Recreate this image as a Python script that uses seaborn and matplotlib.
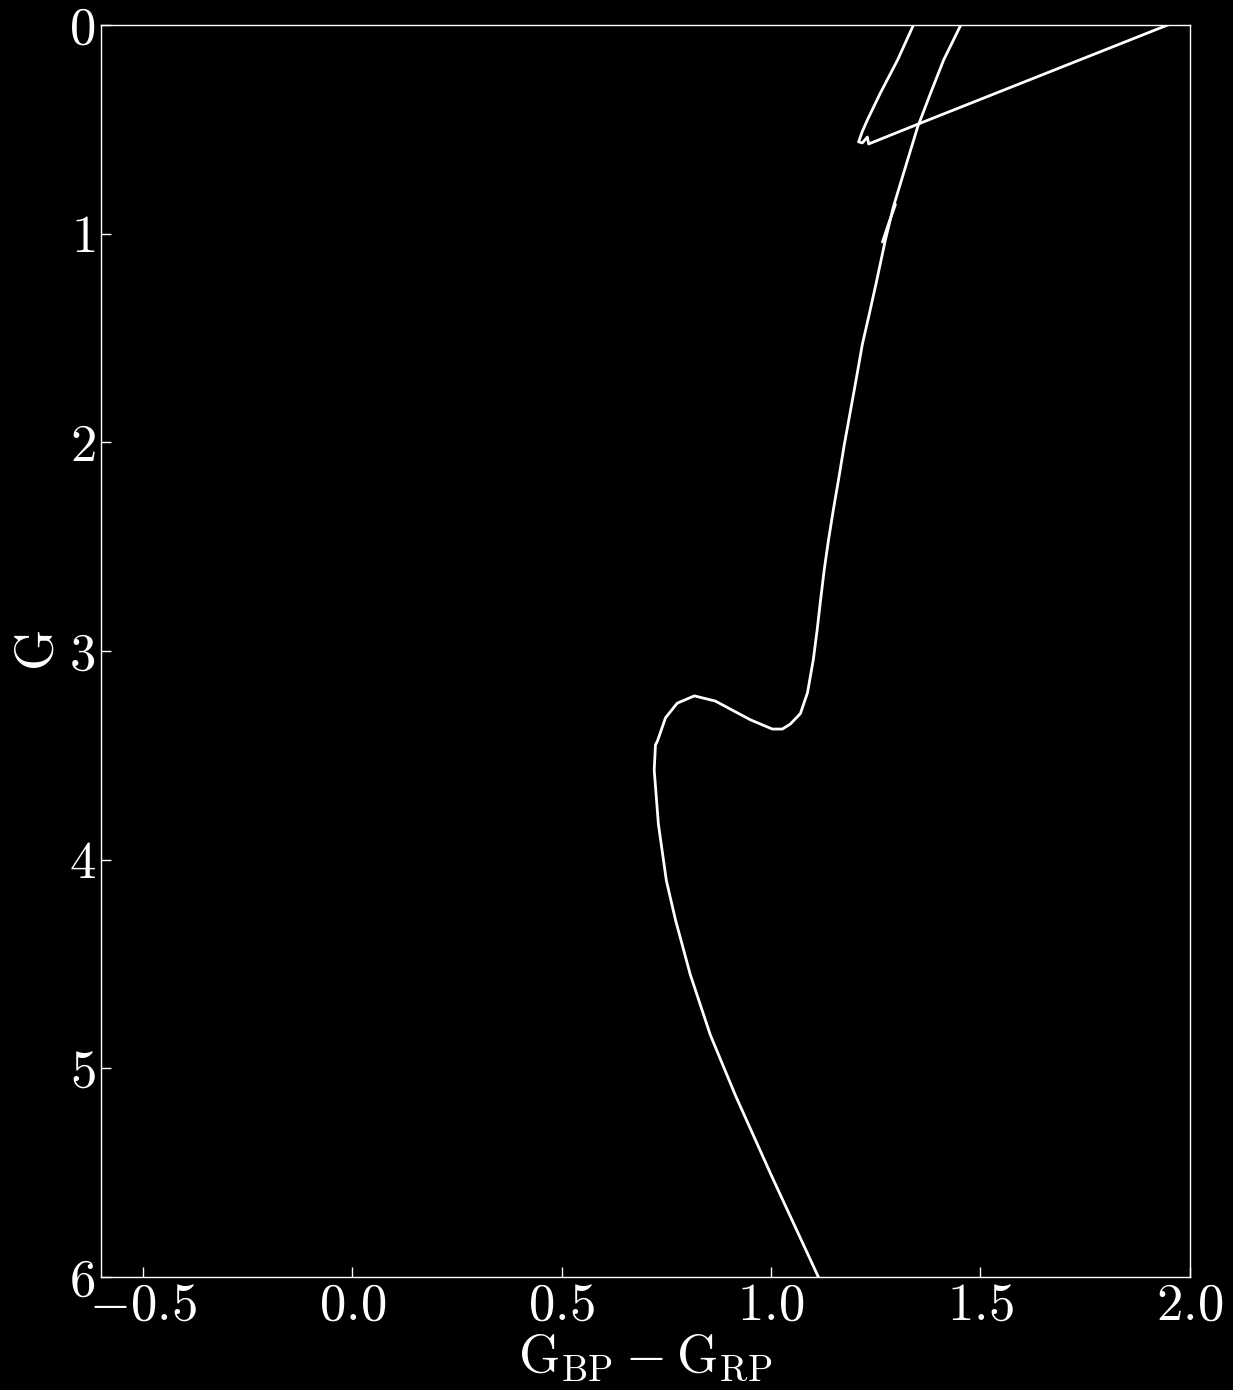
import matplotlib
matplotlib.use("Agg")
import matplotlib.pyplot as plt
import seaborn as sns
import pandas as pd

# Main sequence -> turnoff -> subgiant -> red giant branch
ms_color = [1.113, 1.000, 0.915, 0.855, 0.807, 0.772, 0.750, 0.731, 0.721, 0.724, 0.729,
            0.748, 0.776, 0.817, 0.867, 0.951, 1.003, 1.027, 1.046, 1.070, 1.087, 1.101,
            1.110, 1.118, 1.127, 1.137, 1.149, 1.161, 1.175, 1.190, 1.204, 1.218, 1.234,
            1.250, 1.273, 1.292, 1.321, 1.350, 1.381, 1.412, 1.453, 1.465]
ms_mag = [6.00, 5.51, 5.13, 4.84, 4.55, 4.29, 4.10, 3.83, 3.57, 3.45, 3.43,
          3.32, 3.25, 3.215, 3.24, 3.33, 3.374, 3.374, 3.35, 3.30, 3.20, 3.04,
          2.90, 2.76, 2.61, 2.47, 2.32, 2.18, 2.01, 1.845, 1.69, 1.53, 1.39,
          1.246, 1.03, 0.872, 0.68, 0.489, 0.326, 0.168, 0.0, -0.05]

# Helium burning / asymptotic branch loop
he_color = [2.05, 1.947, 1.357, 1.233, 1.230, 1.218, 1.209, 1.218, 1.230, 1.261,
            1.302, 1.340, 1.352]
he_mag = [-0.05, 0.0, 0.47, 0.57, 0.537, 0.565, 0.56, 0.51, 0.455, 0.326,
          0.168, 0.0, -0.05]

# Short isolated segment
seg_color = [1.266, 1.281, 1.297]
seg_mag = [1.04, 0.95, 0.86]

sns.set_style("dark", {"axes.facecolor": "black", "figure.facecolor": "black"})
plt.rcParams.update({
    "font.family": "serif",
    "font.serif": ["cmr10", "DejaVu Serif"],
    "mathtext.fontset": "cm",
    "axes.formatter.use_mathtext": True,
    "axes.unicode_minus": True,
    "text.color": "white",
    "axes.labelcolor": "white",
    "xtick.color": "white",
    "ytick.color": "white",
})

fig = plt.figure(figsize=(12.33, 13.9), dpi=100, facecolor="black")
ax = fig.add_axes([0.0819, 0.0813, 0.965 - 0.0819, 0.982 - 0.0813])
ax.set_facecolor("black")

for c, m in [(ms_color, ms_mag), (he_color, he_mag), (seg_color, seg_mag)]:
    df = pd.DataFrame({"color": c, "mag": m})
    sns.lineplot(data=df, x="color", y="mag", sort=False, estimator=None,
                 color="white", lw=2.0, ax=ax)

ax.set_xlim(-0.6, 2.0)
ax.set_ylim(6, 0)
ax.set_xticks([-0.5, 0.0, 0.5, 1.0, 1.5, 2.0])
ax.set_xticklabels([r"$-0.5$", r"$0.0$", r"$0.5$", r"$1.0$", r"$1.5$", r"$2.0$"])
ax.set_yticks([0, 1, 2, 3, 4, 5, 6])
ax.set_yticklabels([r"$0$", r"$1$", r"$2$", r"$3$", r"$4$", r"$5$", r"$6$"])
ax.tick_params(direction="in", length=7, width=1, labelsize=38, colors="white",
               pad=4, left=True, bottom=True, top=False, right=False)
for sp in ax.spines.values():
    sp.set_color("white")
    sp.set_linewidth(1.0)
    sp.set_visible(True)
ax.grid(False)
ax.set_xlabel(r"$\mathrm{G_{BP}-G_{RP}}$", fontsize=38, labelpad=2)
ax.set_ylabel(r"$\mathrm{G}$", fontsize=38, labelpad=4)

fig.savefig("out.png", dpi=100, facecolor="black")
